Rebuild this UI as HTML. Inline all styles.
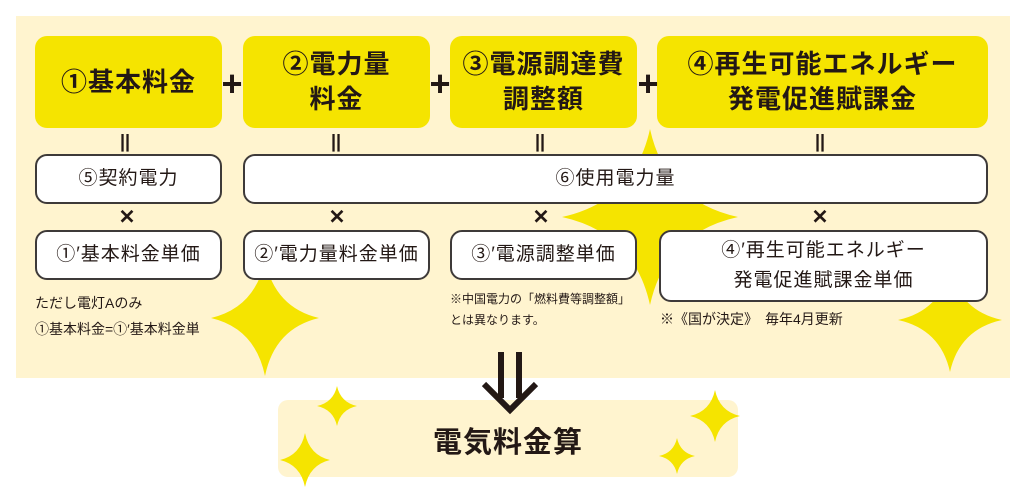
<!DOCTYPE html>
<html><head><meta charset="utf-8"><style>
body{margin:0;width:1024px;height:494px;background:#fff;position:relative;overflow:hidden;font-family:"Liberation Sans","Noto Sans CJK JP",sans-serif;color:#231815}
.a{position:absolute}
.y{position:absolute;background:#f5e400;border-radius:12px;display:flex;align-items:center;justify-content:center;text-align:center;font-weight:bold;font-size:26px;line-height:35px;letter-spacing:1px}
.w{position:absolute;background:#fff;border:2px solid #3e3a39;border-radius:12px;box-sizing:border-box;display:flex;align-items:center;justify-content:center;text-align:center;font-size:19px;line-height:30px;letter-spacing:1px}
.op{position:absolute;font-weight:bold;transform:translate(-50%,-50%)}
</style></head><body>
<div class="a" style="left:16px;top:16px;width:994px;height:362px;background:#fff4cf"></div>
<div class="a" style="left:278px;top:400px;width:460px;height:77px;background:#fff4cf;border-radius:10px"></div>
<svg class="a" style="left:0;top:0" width="1024" height="494">
<defs><path id="s" d="M0,-1 Q0.18,-0.18 1,0 Q0.18,0.18 0,1 Q-0.18,0.18 -1,0 Q-0.18,-0.18 0,-1Z"/></defs>
<g fill="#f5e400">
<use href="#s" transform="translate(650,217) scale(88)"/>
<use href="#s" transform="translate(265,318) scale(54,58)"/>
<use href="#s" transform="translate(950,320) scale(52)"/>
<use href="#s" transform="translate(337,406) scale(20)"/>
<use href="#s" transform="translate(305,460) scale(25,27)"/>
<use href="#s" transform="translate(715,416) scale(25,26)"/>
<use href="#s" transform="translate(677,456) scale(18)"/>
</g>
<g stroke="#231815" stroke-width="6" fill="none">
<line x1="501" y1="352" x2="501" y2="398"/><line x1="519" y1="352" x2="519" y2="398"/>
<polyline points="484,384 510,410 536,384"/>
</g></svg>
<div class="y" style="left:35px;top:36px;width:187px;height:92px">①基本料金</div>
<div class="y" style="left:243px;top:36px;width:187px;height:92px">②電力量<br>料金</div>
<div class="y" style="left:450px;top:36px;width:187px;height:92px">③電源調達費<br>調整額</div>
<div class="y" style="left:657px;top:36px;width:331px;height:92px">④再生可能エネルギー<br>発電促進賦課金</div>
<div class="op" style="left:232px;top:84px;font-size:36px">+</div>
<div class="op" style="left:440px;top:84px;font-size:36px">+</div>
<div class="op" style="left:648px;top:84px;font-size:36px">+</div>
<div class="op" style="left:125px;top:142px;font-size:18px">||</div>
<div class="op" style="left:336px;top:142px;font-size:18px">||</div>
<div class="op" style="left:540px;top:142px;font-size:18px">||</div>
<div class="op" style="left:820px;top:142px;font-size:18px">||</div>
<div class="w" style="left:35px;top:154px;width:187px;height:50px">⑤契約電力</div>
<div class="w" style="left:243px;top:154px;width:745px;height:50px">⑥使用電力量</div>
<div class="op" style="left:127px;top:217px;font-size:20px">✕</div>
<div class="op" style="left:337px;top:217px;font-size:20px">✕</div>
<div class="op" style="left:541px;top:217px;font-size:20px">✕</div>
<div class="op" style="left:820px;top:217px;font-size:20px">✕</div>
<div class="w" style="left:35px;top:230px;width:187px;height:50px">①′基本料金単価</div>
<div class="w" style="left:243px;top:230px;width:187px;height:50px">②′電力量料金単価</div>
<div class="w" style="left:450px;top:230px;width:187px;height:50px">③′電源調整単価</div>
<div class="w" style="left:659px;top:230px;width:329px;height:72px">④′再生可能エネルギー<br>発電促進賦課金単価</div>
<div class="a" style="left:35px;top:290px;font-size:14px;line-height:26px">ただし電灯Aのみ<br>①基本料金=①′基本料金単</div>
<div class="a" style="left:450px;top:289px;font-size:12px;line-height:21px">※中国電力の「燃料費等調整額」<br>とは異なります。</div>
<div class="a" style="left:660px;top:309px;font-size:14px">※《国が決定》　毎年4月更新</div>
<div class="op" style="left:508px;top:440px;font-size:29px;letter-spacing:1px">電気料金算</div>
</body></html>
